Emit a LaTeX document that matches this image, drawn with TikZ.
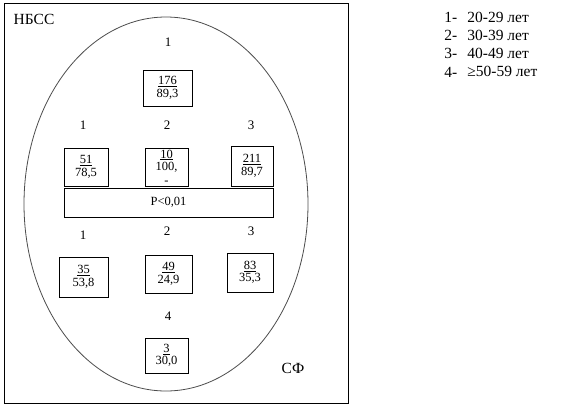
\documentclass[tikz,border=0pt]{standalone}
\usepackage{fontspec}
\setmainfont{Liberation Serif}
\tikzset{
  valbox/.style={draw, line width=0.8pt, align=center, inner sep=0pt,
    font=\fontsize{12.5}{12.5}\selectfont},
  grplabel/.style={font=\fontsize{13}{13}\selectfont},
  bigtext/.style={font=\fontsize{15.5}{16}\selectfont},
}

\begin{document}
\begin{tikzpicture}[x=1pt, y=-1pt, line width=0.8pt]
    \useasboundingbox (0,0) rectangle (563,408);

    % Marco y elipse.
    \draw (4,3) rectangle (348,403);
    \draw[black!70] (166,204) ellipse [x radius=142, y radius=187];
    \node[bigtext, anchor=west] (nbss) at (10,19) {НБСС};
    \node[bigtext] (sf) at (293,368) {СФ};

    % Grupo superior.
    \node[grplabel] (g1) at (168,42) {1};
    \node[valbox, minimum width=49, minimum height=36] (b176) at (167.5,88)
        {\underline{176}\\89,3};

    % Fila media con P<0,01.
    \node[grplabel] (m1) at (83,125) {1};
    \node[grplabel] (m2) at (167,125) {2};
    \node[grplabel] (m3) at (251,125) {3};
    \node[valbox, minimum width=44, minimum height=38] (b51) at (86,167)
        {\underline{51}\\78,5};
    \node[valbox, minimum width=43, minimum height=38] (b10) at (166.5,167)
        {\underline{10}\\100,\\[1pt]-};
    \node[valbox, minimum width=42, minimum height=40] (b211) at (252,166)
        {\underline{211}\\89,7};
    \node[valbox, minimum width=209, minimum height=29] (pval) at (168.5,202.5)
        {P<0,01};

    % Fila inferior.
    \node[grplabel] (l1) at (83,235) {1};
    \node[grplabel] (l2) at (167,231) {2};
    \node[grplabel] (l3) at (251,231) {3};
    \node[valbox, minimum width=49, minimum height=40] (b35) at (83.5,277)
        {\underline{35}\\53,8};
    \node[valbox, minimum width=47, minimum height=38] (b49) at (168.5,274)
        {\underline{49}\\24,9};
    \node[valbox, minimum width=46, minimum height=39] (b83) at (250,272.5)
        {\underline{83}\\35,3};
    \node[grplabel] (l4) at (168,316) {4};
    \node[valbox, minimum width=43, minimum height=35] (b3) at (166.5,355.5)
        {\underline{3}\\30,0};

    % Leyenda.
    \foreach \i/\t in {1/20-29, 2/30-39, 3/40-49, 4/{≥50-59}} {
        \node[bigtext, anchor=west, inner sep=0pt] (num\i) at (444,{17+18.3*(\i-1)}) {\i-};
        \node[bigtext, anchor=west, inner sep=0pt] (leg\i) at (467,{17+18.3*(\i-1)}) {\t\ лет};
    }
\end{tikzpicture}
\end{document}
